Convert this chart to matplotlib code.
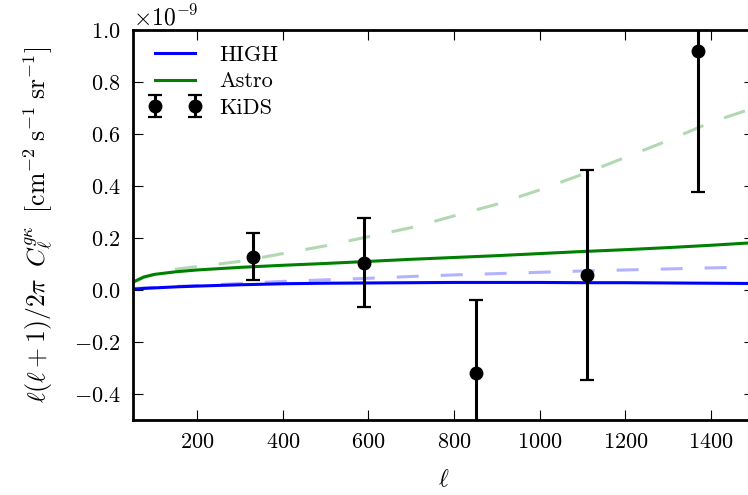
import matplotlib
matplotlib.use("Agg")
import matplotlib.pyplot as plt
import numpy as np

plt.rcParams['font.family'] = 'serif'
plt.rcParams['font.serif'] = ['cmr10', 'DejaVu Serif']
plt.rcParams['mathtext.fontset'] = 'cm'
plt.rcParams['axes.formatter.use_mathtext'] = True
plt.rcParams['axes.unicode_minus'] = False

# --- data (values in units of 1e-9) ---
ell_model = [50, 75, 100, 150, 200, 300, 400, 500, 600, 700, 800, 900, 1000, 1100, 1200, 1300, 1400, 1500]
high_solid = [0.003, 0.006, 0.008, 0.012, 0.015, 0.020, 0.024, 0.026, 0.027, 0.028, 0.029, 0.029, 0.029, 0.028, 0.028, 0.027, 0.026, 0.025]
astro_solid = [0.030, 0.050, 0.060, 0.070, 0.077, 0.087, 0.095, 0.102, 0.110, 0.118, 0.125, 0.132, 0.140, 0.148, 0.155, 0.163, 0.172, 0.182]
high_dashed = [0.005, 0.008, 0.010, 0.014, 0.017, 0.025, 0.033, 0.039, 0.045, 0.052, 0.058, 0.063, 0.068, 0.073, 0.077, 0.081, 0.085, 0.088]
astro_dashed = [0.030, 0.048, 0.060, 0.080, 0.090, 0.110, 0.140, 0.170, 0.205, 0.240, 0.285, 0.330, 0.385, 0.445, 0.510, 0.575, 0.645, 0.700]

kids_ell = [330, 590, 850, 1110, 1370]
kids_val = [0.128, 0.105, -0.318, 0.057, 0.920]
kids_err = [0.090, 0.172, 0.280, 0.405, 0.543]

scale = 1e-9

fig = plt.figure(figsize=(7.48, 4.95), dpi=100)
ax = fig.add_axes([0.1778, 0.1515, 0.830, 0.788])

lw = 2.2
d = 7.2
l1, = ax.plot(ell_model, np.array(astro_dashed) * scale, color='#008000', alpha=0.3, lw=lw)
l1.set_dashes((d, d))
l2, = ax.plot(ell_model, np.array(high_dashed) * scale, color='#0000ff', alpha=0.3, lw=lw)
l2.set_dashes((d, d))
ax.plot(ell_model, np.array(high_solid) * scale, color='#0000ff', lw=lw, label='HIGH')
ax.plot(ell_model, np.array(astro_solid) * scale, color='#008000', lw=lw, label='Astro')
ax.errorbar(kids_ell, np.array(kids_val) * scale, yerr=np.array(kids_err) * scale,
            fmt='o', color='k', ms=9, elinewidth=2.2, capsize=5, capthick=1.6,
            label='KiDS', zorder=5)

ax.set_xlim(50, 1500)
ax.set_ylim(-0.5e-9, 1.0e-9)
ax.set_xticks([200, 400, 600, 800, 1000, 1200, 1400])
ax.set_yticks(np.array([-0.4, -0.2, 0.0, 0.2, 0.4, 0.6, 0.8, 1.0]) * scale)

ax.tick_params(direction='in', top=True, right=True, length=7, width=0.8,
               labelsize=16, pad=9)
ax.yaxis.get_offset_text().set_fontsize(17)
for s in ax.spines.values():
    s.set_linewidth(2.0)

ax.set_xlabel(r'$\ell$', fontsize=17, labelpad=12)
ax.set_ylabel(r'$\ell(\ell+1)/2\pi\;\;C_\ell^{g\kappa}\;\;[\mathrm{cm}^{-2}\;\mathrm{s}^{-1}\;\mathrm{sr}^{-1}]$',
              fontsize=18.5, labelpad=13)

ax.legend(loc='upper left', frameon=False, numpoints=2, fontsize=16,
          handlelength=2.4, handletextpad=0.8, labelspacing=0.3, borderaxespad=0.3)

fig.savefig('out.png', dpi=100)
